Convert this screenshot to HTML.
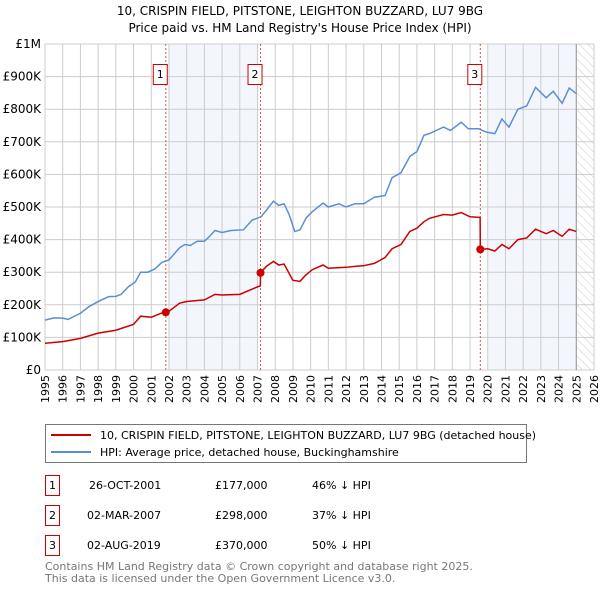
<!DOCTYPE html>
<html><head><meta charset="utf-8">
<style>
body{margin:0;background:#fff;font-family:"DejaVu Sans","Liberation Sans",sans-serif;}
svg text{font-family:"DejaVu Sans","Liberation Sans",sans-serif;}
</style></head>
<body>
<svg id="c" width="600" height="590" viewBox="0 0 600 590" xmlns="http://www.w3.org/2000/svg">
<defs>
<pattern id="hatch" width="6" height="6" patternUnits="userSpaceOnUse" patternTransform="rotate(-45)">
<line x1="0" y1="0" x2="0" y2="6" stroke="#ccc" stroke-width="1"/>
</pattern>
</defs>
<text x="300" y="15" text-anchor="middle" font-size="12">10, CRISPIN FIELD, PITSTONE, LEIGHTON BUZZARD, LU7 9BG</text>
<text x="300" y="32" text-anchor="middle" font-size="12">Price paid vs. HM Land Registry's House Price Index (HPI)</text>
<g id="plot"></g>
<g>
<rect x="45.5" y="424.5" width="481" height="38" fill="#fff" stroke="#777"/>
<line x1="51" y1="435" x2="91" y2="435" stroke="#cc0000" stroke-width="2"/>
<text x="100" y="439" font-size="11">10, CRISPIN FIELD, PITSTONE, LEIGHTON BUZZARD, LU7 9BG (detached house)</text>
<line x1="51" y1="452" x2="91" y2="452" stroke="#5b8fd4" stroke-width="2"/>
<text x="100" y="456" font-size="11">HPI: Average price, detached house, Buckinghamshire</text>
</g>
<g font-size="11">
<rect x="45.5" y="475.5" width="14" height="20" fill="#fff" stroke="#cc0000"/><text x="52.5" y="489" text-anchor="middle">1</text>
<text x="89" y="489">26-OCT-2001</text><text x="215" y="489">£177,000</text><text x="312" y="489">46% ↓ HPI</text>
<rect x="45.5" y="505.5" width="14" height="20" fill="#fff" stroke="#cc0000"/><text x="52.5" y="519" text-anchor="middle">2</text>
<text x="87" y="519">02-MAR-2007</text><text x="215" y="519">£298,000</text><text x="312" y="519">37% ↓ HPI</text>
<rect x="45.5" y="535.5" width="14" height="20" fill="#fff" stroke="#cc0000"/><text x="52.5" y="549" text-anchor="middle">3</text>
<text x="87" y="549">02-AUG-2019</text><text x="215" y="549">£370,000</text><text x="312" y="549">50% ↓ HPI</text>
</g>
<text x="45" y="570" font-size="11" fill="#777">Contains HM Land Registry data © Crown copyright and database right 2025.</text>
<text x="45" y="582" font-size="11" fill="#777">This data is licensed under the Open Government Licence v3.0.</text>
</svg>
<script>
const hpiYears=[1995.0,1995.5,1996.0,1996.3,1997.0,1997.5,1998.0,1998.6,1999.0,1999.3,1999.7,2000.1,2000.4,2000.8,2001.2,2001.6,2002.0,2002.6,2002.9,2003.2,2003.6,2004.0,2004.2,2004.6,2005.0,2005.5,2006.2,2006.7,2007.2,2007.5,2007.9,2008.2,2008.5,2008.8,2009.1,2009.4,2009.74,2010.1,2010.7,2011.0,2011.6,2012.0,2012.5,2013.0,2013.6,2014.2,2014.6,2015.1,2015.6,2016.0,2016.4,2016.7,2017.5,2017.9,2018.5,2018.9,2019.5,2019.9,2020.4,2020.8,2021.2,2021.7,2022.2,2022.7,2023.3,2023.7,2024.2,2024.6,2025.0];
const hpiValues=[153,160,159,155,174,195,210,225,226,232,255,270,300,300,310,330,338,375,385,382,395,395,405,428,422,428,430,460,470,490,518,505,510,475,425,430,466,486,512,500,510,500,510,510,530,535,590,605,655,670,720,725,745,735,760,740,740,730,725,770,745,800,810,867,835,855,818,865,848];
const ppYears=[1995.0,1996.0,1997.0,1998.0,1999.0,2000.0,2000.4,2001.0,2001.6,2001.82,2002.0,2002.6,2003.0,2004.0,2004.6,2005.0,2006.0,2007.0,2007.16,2007.17,2007.5,2007.9,2008.2,2008.5,2009.0,2009.4,2009.7,2010.1,2010.7,2011.0,2012.0,2012.5,2013.0,2013.6,2014.2,2014.6,2015.1,2015.6,2016.0,2016.4,2016.7,2017.5,2018.0,2018.5,2019.0,2019.57,2019.58,2020.0,2020.4,2020.8,2021.2,2021.7,2022.2,2022.7,2023.3,2023.7,2024.2,2024.6,2025.0];
const ppValues=[82,87,97,113,122,140,165,162,175,177,180,205,210,215,232,230,232,255,258,298,318,333,322,325,275,272,290,308,322,312,315,318,320,327,345,372,385,425,435,455,465,477,475,483,470,468,370,372,365,385,372,400,405,432,418,428,410,432,425];
const saleLabels=["1","2","3"];
const saleYears=[2001.82,2007.17,2019.58];
const saleValues=[177,298,370];
const yTickValues=[0,100,200,300,400,500,600,700,800,900,1000];
const yTickLabels=["£0","£100K","£200K","£300K","£400K","£500K","£600K","£700K","£800K","£900K","£1M"];
const xTickYears=[1995,1996,1997,1998,1999,2000,2001,2002,2003,2004,2005,2006,2007,2008,2009,2010,2011,2012,2013,2014,2015,2016,2017,2018,2019,2020,2021,2022,2023,2024,2025,2026];
const shadeRanges=[[2002,2007],[2020,2025]];

const X0=45,X1=594,Y0=370,Y1=44;
const x=y=>X0+(y-1995)/31*(X1-X0);
const yv=v=>Y0-v/1000*(Y0-Y1);
const NS="http://www.w3.org/2000/svg";
const g=document.getElementById('plot');
function mk(t,a){const e=document.createElementNS(NS,t);for(const k in a)e.setAttribute(k,a[k]);g.appendChild(e);return e;}
shadeRanges.forEach((r,i)=>{const e=mk('rect',{x:x(r[0]),y:Y1,width:x(r[1])-x(r[0]),height:Y0-Y1,fill:'#eef3fc',opacity:0.7});

});
const h=mk('rect',{x:x(2025),y:Y1,width:X1-x(2025),height:Y0-Y1,fill:'url(#hatch)'});


xTickYears.forEach((yr,i)=>{mk('line',{x1:x(yr),x2:x(yr),y1:Y1,y2:Y0,stroke:'#ccc','stroke-width':1});
const t=mk('text',{x:0,y:0,'font-size':11,'text-anchor':'end',transform:`translate(${x(yr)+4},${Y0+5}) rotate(-90)`});t.textContent=yr;

});
yTickValues.forEach((v,i)=>{mk('line',{x1:X0,x2:X1,y1:yv(v),y2:yv(v),stroke:'#ccc','stroke-width':1});
const t=mk('text',{x:X0-4,y:yv(v)+4,'font-size':12,'text-anchor':'end'});t.textContent=yTickLabels[i];

});
mk('line',{x1:x(2025),x2:x(2025),y1:Y1,y2:Y0,stroke:'#999','stroke-width':1});
saleYears.forEach((s,i)=>{const l=mk('line',{x1:x(s),x2:x(s),y1:Y1,y2:Y0,stroke:'#e05555','stroke-width':1,'stroke-dasharray':'2,2'});

});
const hp=mk('polyline',{points:hpiYears.map((t,i)=>x(t)+','+yv(hpiValues[i])).join(' '),fill:'none',stroke:'#5b8fd4','stroke-width':1.5});


const pp=mk('polyline',{points:ppYears.map((t,i)=>x(t)+','+yv(ppValues[i])).join(' '),fill:'none',stroke:'#cc0000','stroke-width':1.5});


saleYears.forEach((s,i)=>{const c=mk('circle',{cx:x(s),cy:yv(saleValues[i]),r:4,fill:'#cc0000'});


const r=mk('rect',{x:x(s)-20.5+8,y:64.5,width:14,height:20,fill:'#fff',stroke:'#cc0000'});


const t=mk('text',{x:x(s)-5.5,y:78,'font-size':11,'text-anchor':'middle'});t.textContent=saleLabels[i];

});
</script>
</body></html>
